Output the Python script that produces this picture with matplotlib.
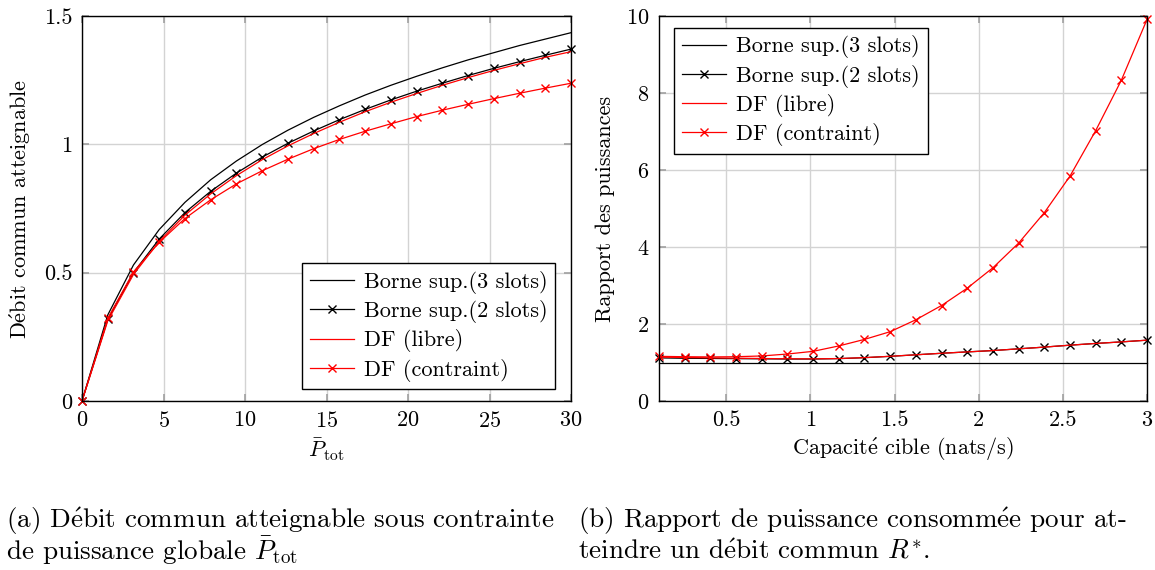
import numpy as np
import matplotlib
matplotlib.use("Agg")
import matplotlib.pyplot as plt

plt.rcParams['font.family'] = ['cmr10', 'DejaVu Serif']
plt.rcParams['mathtext.fontset'] = 'cm'
plt.rcParams['axes.formatter.use_mathtext'] = True
plt.rcParams['font.size'] = 16

# --- (a) débit commun vs puissance totale ---
P_tot = np.linspace(0, 30, 20)
borne3_a = [0, 0.335, 0.530, 0.668, 0.774, 0.862, 0.935, 0.999, 1.055, 1.105,
            1.150, 1.192, 1.230, 1.265, 1.298, 1.329, 1.357, 1.385, 1.410, 1.435]
borne2_a = [0, 0.318, 0.500, 0.631, 0.734, 0.817, 0.888, 0.950, 1.004, 1.052,
            1.096, 1.136, 1.173, 1.207, 1.238, 1.268, 1.296, 1.322, 1.347, 1.371]
libre_a = [0, 0.312, 0.493, 0.622, 0.724, 0.807, 0.878, 0.940, 0.994, 1.042,
           1.086, 1.127, 1.164, 1.198, 1.230, 1.260, 1.288, 1.314, 1.339, 1.361]
contr_a = [0, 0.322, 0.503, 0.618, 0.711, 0.784, 0.846, 0.897, 0.942, 0.983,
           1.019, 1.051, 1.080, 1.108, 1.133, 1.156, 1.178, 1.199, 1.219, 1.238]

# --- (b) rapport des puissances vs capacité cible ---
cap = np.linspace(0.1, 3, 20)
borne3_b = [1.0] * 20
borne2_b = [1.12, 1.11, 1.105, 1.10, 1.095, 1.09, 1.09, 1.10, 1.125, 1.16,
            1.20, 1.24, 1.275, 1.31, 1.355, 1.40, 1.45, 1.495, 1.535, 1.58]
libre_b = [1.14, 1.13, 1.12, 1.112, 1.104, 1.097, 1.095, 1.103, 1.127, 1.162,
           1.20, 1.24, 1.275, 1.31, 1.355, 1.40, 1.45, 1.495, 1.535, 1.58]
contr_b = [1.16, 1.15, 1.145, 1.15, 1.17, 1.22, 1.29, 1.43, 1.60, 1.80,
           2.11, 2.48, 2.93, 3.46, 4.10, 4.89, 5.84, 7.02, 8.33, 9.91]

labels = ["Borne sup.(3 slots)", "Borne sup.(2 slots)", "DF (libre)", "DF (contraint)"]

def fr(s):
    # cmr10 has no é: build it with a mathtext accent
    return s.replace("é", r"$\acute{\mathrm{e}}$")

fig = plt.figure(figsize=(11.55, 5.7), dpi=100)
axa = fig.add_axes([82/1155, 169/570, 489/1155, 385/570])
axb = fig.add_axes([659/1155, 169/570, 488/1155, 385/570])

def style(ax):
    ax.grid(True, color="#d3d3d3", lw=1.0)
    ax.set_axisbelow(True)
    ax.tick_params(direction="in", top=True, right=True, length=5, color="#a0a0a0", width=1.2, pad=7)
    for s in ax.spines.values():
        s.set_linewidth(1.0)

def draw(ax, x, s3, s2, sl, sc):
    kw = dict(lw=0.9, ms=6, mew=1.0, clip_on=False)
    ax.plot(x, s3, color="black", label=labels[0], **kw)
    ax.plot(x, s2, color="black", marker="x", label=labels[1], **kw)
    ax.plot(x, sl, color="red", label=labels[2], **kw)
    ax.plot(x, sc, color="red", marker="x", label=labels[3], **kw)

legkw = dict(fancybox=False, edgecolor="black", framealpha=1, handlelength=2.0,
             borderpad=0.35, labelspacing=0.28, handletextpad=0.45, borderaxespad=0)

draw(axa, P_tot, borne3_a, borne2_a, libre_a, contr_a)
axa.set_xlim(0, 30); axa.set_ylim(0, 1.5)
axa.set_xticks([0, 5, 10, 15, 20, 25, 30])
axa.set_yticks([0, 0.5, 1, 1.5]); axa.set_yticklabels(["0", "0.5", "1", "1.5"])
axa.set_xlabel(r"$\bar{P}_{\mathrm{tot}}$", labelpad=4)
axa.set_ylabel(fr("Débit commun atteignable"), labelpad=8)
style(axa)
axa.legend(loc="lower right", bbox_to_anchor=(0.968, 0.03), **legkw)

draw(axb, cap, borne3_b, borne2_b, libre_b, contr_b)
axb.set_xlim(0.1, 3); axb.set_ylim(0, 10)
axb.set_xticks([0.5, 1, 1.5, 2, 2.5, 3]); axb.set_xticklabels(["0.5", "1", "1.5", "2", "2.5", "3"])
axb.set_yticks([0, 2, 4, 6, 8, 10])
axb.set_xlabel(fr("Capacité cible (nats/s)"), labelpad=4)
axb.set_ylabel("Rapport des puissances", labelpad=8)
style(axb)
axb.legend(loc="upper left", bbox_to_anchor=(0.031, 0.97), **legkw)

capfs = 19.5
fig.text(6/1155, 1 - 521/570, fr("(a) Débit commun atteignable sous contrainte"), va="center", fontsize=capfs)
fig.text(6/1155, 1 - 551/570, r"de puissance globale $\bar{P}_{\mathrm{tot}}$", va="center", fontsize=capfs)
fig.text(578/1155, 1 - 521/570, fr("(b) Rapport de puissance consommée pour at-"), va="center", fontsize=capfs)
fig.text(578/1155, 1 - 551/570, fr(r"teindre un débit commun $R^{*}$."), va="center", fontsize=capfs)

fig.savefig("out.png", dpi=100, facecolor="white")
